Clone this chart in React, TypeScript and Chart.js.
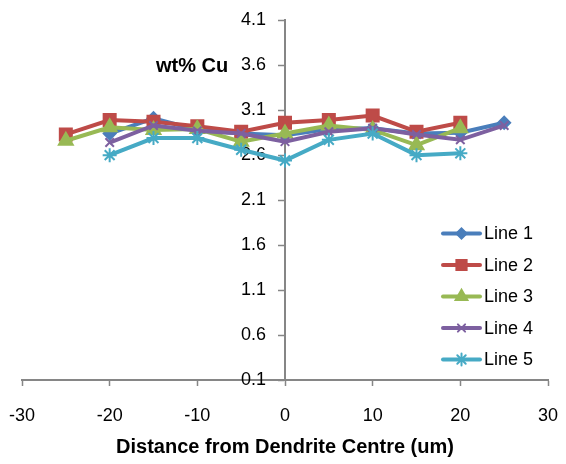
import React, { useEffect, useRef } from "react";
import { Chart, registerables } from "chart.js";
import { drawPoint } from "chart.js/helpers";

Chart.register(...registerables);

const xPositions = [-25, -20, -15, -10, -5, 0, 5, 10, 15, 20, 25];
const line1 = [null, 2.84, 3.01, 2.88, 2.84, 2.82, 2.89, 2.9, 2.84, 2.85, 2.96];
const line2 = [2.83, 2.99, 2.97, 2.92, 2.86, 2.96, 2.99, 3.04, 2.86, 2.96, null];
const line3 = [2.76, 2.91, 2.88, 2.89, 2.75, 2.84, 2.93, 2.88, 2.71, 2.9, null];
const line4 = [null, 2.74, 2.93, 2.87, 2.84, 2.75, 2.86, 2.9, 2.83, 2.77, 2.93];
const line5 = [null, 2.6, 2.79, 2.79, 2.66, 2.54, 2.77, 2.84, 2.6, 2.62, null];

const seriesNames = ["Line 1", "Line 2", "Line 3", "Line 4", "Line 5"];
const seriesValues = [line1, line2, line3, line4, line5];
const seriesColors = ["#4A7EBB", "#BE4B48", "#98B954", "#7D60A0", "#46AAC5"];
const seriesStyles = ["rectRot", "rect", "triangle", "crossRot", "star"];
const seriesRadius = [6, 8.5, 8, 6, 7];

const xTitle = "Distance from Dendrite Centre (um)";
const yTitle = "wt% Cu";
const FONT = "Arial, 'Liberation Sans', sans-serif";

const overlayPlugin = {
  id: "overlay",
  afterDraw(chart: any) {
    const ctx = chart.ctx;
    ctx.save();
    // y title
    ctx.fillStyle = "#000";
    ctx.font = `bold 20px ${FONT}`;
    ctx.textAlign = "left";
    ctx.textBaseline = "middle";
    ctx.fillText(yTitle, 156, 66);
    // legend
    const x0 = 443;
    const x1 = 480;
    chart.data.datasets.forEach((ds: any, i: number) => {
      const y = 233.5 + i * 31.5;
      ctx.strokeStyle = ds.borderColor;
      ctx.fillStyle = ds.borderColor;
      ctx.lineWidth = 4;
      ctx.lineCap = "round";
      ctx.beginPath();
      ctx.moveTo(x0, y);
      ctx.lineTo(x1, y);
      ctx.stroke();
      ctx.lineWidth = 2;
      drawPoint(
        ctx,
        { pointStyle: ds.pointStyle, radius: ds.pointRadius * 0.85, rotation: 0, borderWidth: 2 },
        (x0 + x1) / 2,
        y
      );
      ctx.fillStyle = "#000";
      ctx.font = `18px ${FONT}`;
      ctx.textAlign = "left";
      ctx.textBaseline = "middle";
      ctx.fillText(ds.label, 484, y + 1);
    });
    ctx.restore();
  },
};

export default function App() {
  const ref = useRef<HTMLCanvasElement | null>(null);
  useEffect(() => {
    if (!ref.current) return;
    const datasets = seriesNames.map((name, i) => ({
      label: name,
      data: xPositions
        .map((x, j) => ({ x, y: seriesValues[i][j] }))
        .filter((p) => p.y !== null),
      borderColor: seriesColors[i],
      backgroundColor: seriesColors[i],
      pointBackgroundColor: seriesColors[i],
      pointBorderColor: seriesColors[i],
      pointStyle: seriesStyles[i],
      pointRadius: seriesRadius[i],
      pointBorderWidth: 2,
      borderWidth: 4,
      tension: 0,
      order: 5 - i,
    }));
    const chart = new Chart(ref.current, {
      type: "line",
      data: { datasets },
      plugins: [overlayPlugin],
      options: {
        animation: false,
        responsive: false,
        layout: { padding: { left: 22, right: 18, top: 20, bottom: 1 } },
        plugins: { legend: { display: false }, tooltip: { enabled: false } },
        scales: {
          x: {
            type: "linear",
            position: "bottom",
            min: -30,
            max: 30,
            ticks: {
              stepSize: 10,
              color: "#000",
              font: { size: 18, family: FONT, lineHeight: 2.75 },
              padding: 5,
            },
            grid: {
              drawOnChartArea: false,
              drawTicks: true,
              tickLength: 6,
              tickColor: "#868686",
              tickWidth: 1.5,
            },
            border: { color: "#868686", width: 2 },
            title: {
              display: true,
              text: xTitle,
              color: "#000",
              font: { size: 20, weight: "bold", family: FONT },
              padding: { top: -10.5, bottom: 4 },
            },
          },
          y: {
            type: "linear",
            position: "center",
            min: 0.1,
            max: 4.1,
            ticks: {
              stepSize: 0.5,
              color: "#000",
              font: { size: 18, family: FONT, lineHeight: 0.8 },
              padding: 13,
              callback: (v: any) => Number(v).toFixed(1),
            },
            grid: {
              drawOnChartArea: false,
              drawTicks: true,
              tickLength: 6,
              tickColor: "#868686",
              tickWidth: 1.5,
            },
            border: { color: "#868686", width: 2 },
          },
        },
      } as any,
    });
    return () => chart.destroy();
  }, []);
  return (
    <div style={{ position: "fixed", left: 0, top: 0, width: 566, height: 464, background: "#fff" }}>
      <canvas ref={ref} width={566} height={464} style={{ display: "block" }} />
    </div>
  );
}
